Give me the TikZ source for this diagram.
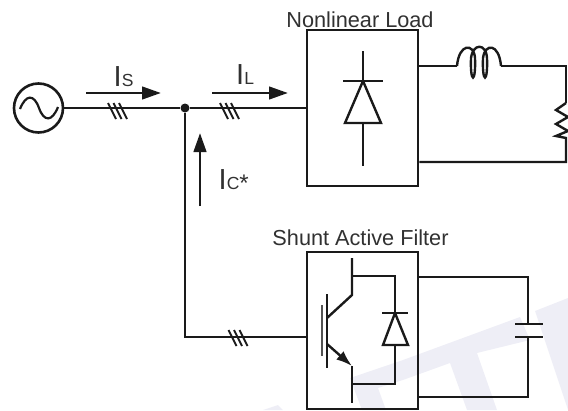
\documentclass[tikz,border=0pt]{standalone}
\usepackage{fontspec}
\setmainfont{Liberation Sans}
\usetikzlibrary{arrows.meta,calc}
\definecolor{ink}{HTML}{1A1A1A}
\definecolor{wm}{HTML}{EEEEF6}
\tikzset{
  wire/.style={draw=ink,line width=2.4pt,line join=miter},
  boxframe/.style={draw=ink,line width=2.8pt,fill=none,inner sep=0pt},
  flow/.style={draw=ink,line width=2.8pt,-{Triangle[length=19pt,width=12.5pt]}},
  lab/.style={text=ink!90,font=\fontsize{21.7}{24}\selectfont,inner sep=0pt},
  curlab/.style={text=ink!90,font=\fontsize{29}{30}\selectfont,inner sep=0pt,anchor=base west},
  hash/.style={draw=ink,line width=2pt},
  juncdot/.style={circle,fill=ink,draw=none,minimum size=9pt,inner sep=0pt},
  srcshape/.style={circle,draw=ink,line width=2.6pt,minimum size=49pt,inner sep=0pt}
}
\newcommand{\triplehash}[1]{%
  \foreach \dx in {-5.5,0,5.5}{\draw[hash] ($(#1)+(\dx-4,-7)$) -- ($(#1)+(\dx+4,9)$);}}
\newcommand{\subfs}[1]{{\fontsize{17.5}{18}\selectfont #1}}
\begin{document}
\begin{tikzpicture}[x=1pt,y=-1pt]
\useasboundingbox (0,0) rectangle (568,410);
% watermark
\fill[wm] (350,378) -- (403,360) -- (520,317) -- (530,340) -- (477,353) -- (497,410) -- (467,410) -- (450,363) -- (403,380) -- (378,388) -- (386,410) -- (362,410) -- cycle;
\fill[wm] (535,311) -- (568,298) -- (568,410) -- cycle;
\fill[wm] (263,410) -- (278,405) -- (283,410) -- cycle;
% nodes
\node[srcshape] (src) at (38.5,108) {};
\node[juncdot] (j) at (185,108) {};
\node[boxframe,minimum width=111pt,minimum height=156pt] (load) at (362.5,108) {};
\node[boxframe,minimum width=111pt,minimum height=157pt] (filt) at (362.5,330.5) {};
\node[lab,anchor=base] (loadlab) at (360,27) {Nonlinear Load};
\node[lab,anchor=base] (filtlab) at (360.5,245) {Shunt Active Filter};
% source wave
\draw[ink,line width=2.2pt] (20,109) .. controls (26,94) and (34,94) .. (39,108) .. controls (44,122) and (52,122) .. (58,107);
% main wires
\draw[wire] (src.east) -- (j);
\draw[wire] (j) -- (load.west|-j);
\coordinate (fcorner) at (185,337);
\draw[wire] (j) -- (fcorner) -- (filt.west|-fcorner);
\coordinate (h1) at (117.5,110); \coordinate (h2) at (229.5,110); \coordinate (h3) at (238,337);
\triplehash{h1}\triplehash{h2}\triplehash{h3}
% current arrows
\coordinate (isa) at (86,93); \coordinate (isb) at (161,93);
\coordinate (ila) at (212,93); \coordinate (ilb) at (288,93);
\coordinate (ica) at (200,206); \coordinate (icb) at (200,133);
\draw[flow] (isa) -- (isb);
\draw[flow] (ila) -- (ilb);
\draw[flow] (ica) -- (icb);
\node[curlab] (is) at (113.5,86.5) {I\subfs{S}};
\node[curlab] (il) at (236,84.5) {I\subfs{L}};
\node[curlab] (ic) at (218.5,189.5) {I\subfs{C}{\fontsize{24}{24}\selectfont\raisebox{-2pt}{*}}};
% thyristor
\coordinate (tt) at (363,51); \coordinate (ta) at (363,81); \coordinate (tb) at (363,123); \coordinate (tbot) at (363,166);
\draw[wire] (tt) -- (ta);
\draw[wire] (343,81) -- (383,81);
\draw[wire] (ta) -- (345,123) -- (381,123) -- cycle;
\draw[wire] (tb) -- (tbot);
% load RL
\coordinate (ls) at (457,66); \coordinate (le) at (501,66);
\coordinate (lcr) at (566,66); \coordinate (rs) at (566,103); \coordinate (re) at (566,138); \coordinate (bcr) at (566,162);
\draw[wire] (load.east|-ls) -- (ls);
\draw[wire] (ls) .. controls (459,43) and (474,43) .. (475,58) .. controls (476,84) and (470,84) .. (471,58)
  .. controls (473,43) and (486,43) .. (487,58) .. controls (488,84) and (482,84) .. (483,58)
  .. controls (485,43) and (499,43) .. (501,66);
\draw[wire] (le) -- (lcr) -- (rs);
\draw[wire] (rs) -- (556,110) -- (568,117) -- (556,124) -- (568,131) -- (556,136) -- (re) -- (bcr) -- (load.east|-bcr);
% IGBT
\draw[wire,draw=ink!75] (322,305) -- (322,356);
\draw[wire] (327,294) -- (327,368);
\coordinate (cc) at (352,295); \coordinate (ee) at (352,366);
\draw[wire] (327,318) -- (cc) -- (352,258);
\draw[wire,-{Latex[length=16pt,width=11pt]}] (327,344) -- (ee);
\draw[wire] (ee) -- (352,403);
\coordinate (dtop) at (395,276); \coordinate (dbot) at (395,384);
\draw[wire] (352,276) -- (dtop) -- (395,313);
\draw[wire] (382,313) -- (408,313);
\draw[wire] (395,313) -- (383,345) -- (408,345) -- cycle;
\draw[wire] (395,345) -- (dbot) -- (352,384);
% filter capacitor
\coordinate (c1) at (528,277); \coordinate (c2) at (528,397);
\draw[wire] (filt.east|-c1) -- (c1) -- (528,324);
\draw[wire] (515,324) -- (543,324);
\draw[wire] (515,337) -- (543,337);
\draw[wire] (528,337) -- (c2) -- (filt.east|-c2);
\end{tikzpicture}
\end{document}
